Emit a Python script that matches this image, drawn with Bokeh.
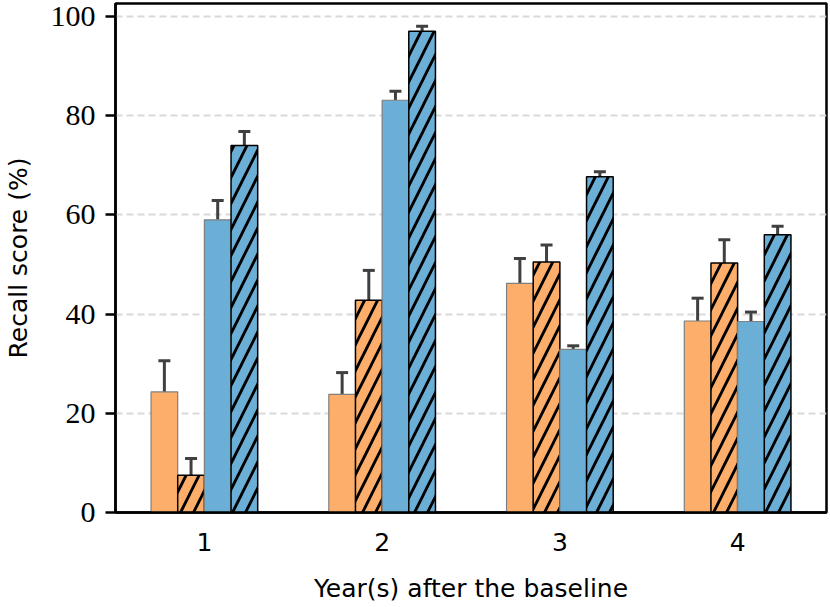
from bokeh.plotting import figure
from bokeh.models import ColumnDataSource, FixedTicker, Whisker, TeeHead, Range1d
from bokeh.embed import file_html
from bokeh.resources import INLINE

years = [1, 2, 3, 4]
tick_labels = ["1", "2", "3", "4"]

# four series (orange plain, orange hatched, blue plain, blue hatched)
orange_plain = [24.3, 23.8, 46.2, 38.6]
orange_plain_err = [6.3, 4.4, 5.0, 4.6]
orange_hatch = [7.5, 42.8, 50.5, 50.3]
orange_hatch_err = [3.4, 6.0, 3.4, 4.7]
blue_plain = [59.0, 83.1, 32.9, 38.5]
blue_plain_err = [3.9, 1.8, 0.7, 1.9]
blue_hatch = [74.0, 97.0, 67.7, 56.0]
blue_hatch_err = [2.8, 1.0, 1.0, 1.7]

series = [
    (orange_plain, orange_plain_err, "#fdae6b", False),
    (orange_hatch, orange_hatch_err, "#fdae6b", True),
    (blue_plain, blue_plain_err, "#6baed6", False),
    (blue_hatch, blue_hatch_err, "#6baed6", True),
]
offsets = [-0.225, -0.075, 0.075, 0.225]
bar_w = 0.15

p = figure(width=830, height=607, output_backend="svg", toolbar_location=None,
           x_range=Range1d(0.5, 4.5), y_range=Range1d(0, 102.6),
           min_border_left=113, min_border_right=4, min_border_top=3,
           min_border_bottom=95)

p.background_fill_color = "white"
p.border_fill_color = "white"
p.outline_line_color = "black"
p.outline_line_width = 2.5

for (vals, errs, color, hatched), off in zip(series, offsets):
    xs = [y + off for y in years]
    src = ColumnDataSource(dict(x=xs, top=vals,
                                upper=[v + e for v, e in zip(vals, errs)]))
    if hatched:
        p.vbar(x="x", top="top", width=bar_w, bottom=0, source=src,
               fill_color=color, line_color="black", line_width=1.5,
               hatch_pattern="/", hatch_color="black", hatch_weight=2.8,
               hatch_scale=26)
    else:
        p.vbar(x="x", top="top", width=bar_w, bottom=0, source=src,
               fill_color=color, line_color="#7f7f7f", line_width=1.2)
    w = Whisker(source=src, base="x", lower="top", upper="upper",
                line_color="#404040", line_width=3,
                upper_head=TeeHead(size=12, line_color="#404040", line_width=3),
                lower_head=None)
    p.add_layout(w)

# axes
p.xaxis.ticker = FixedTicker(ticks=years)
p.xaxis.major_label_overrides = {y: t for y, t in zip(years, tick_labels)}
p.yaxis.ticker = FixedTicker(ticks=[0, 20, 40, 60, 80, 100])

p.xaxis.axis_label = "Year(s) after the baseline"
p.yaxis.axis_label = "Recall score (%)"

for ax in (p.xaxis, p.yaxis):
    ax.axis_line_color = "black"
    ax.axis_line_width = 2.5
    ax.minor_tick_line_color = None
    ax.axis_label_text_font = "DejaVu Sans"
    ax.axis_label_text_font_size = "25px"
    ax.axis_label_text_font_style = "normal"
    ax.axis_label_text_color = "black"
    ax.major_label_text_color = "black"

p.xaxis.major_tick_line_color = None
p.xaxis.major_tick_out = 0
p.xaxis.major_tick_in = 0
p.xaxis.major_label_standoff = 20
p.xaxis.major_label_text_font = "DejaVu Sans"
p.xaxis.major_label_text_font_size = "25px"
p.xaxis.axis_label_standoff = 20

p.yaxis.major_tick_line_color = "black"
p.yaxis.major_tick_line_width = 2.5
p.yaxis.major_tick_out = 10
p.yaxis.major_tick_in = 0
p.yaxis.major_label_standoff = 10
p.yaxis.major_label_text_font = "Liberation Serif"
p.yaxis.major_label_text_font_size = "30px"
p.yaxis.axis_label_standoff = 15

p.xgrid.grid_line_color = None
p.ygrid.grid_line_color = "#d9d9d9"
p.ygrid.grid_line_width = 2
p.ygrid.grid_line_dash = "7 4"

open("out.html", "w").write(file_html(p, INLINE))
